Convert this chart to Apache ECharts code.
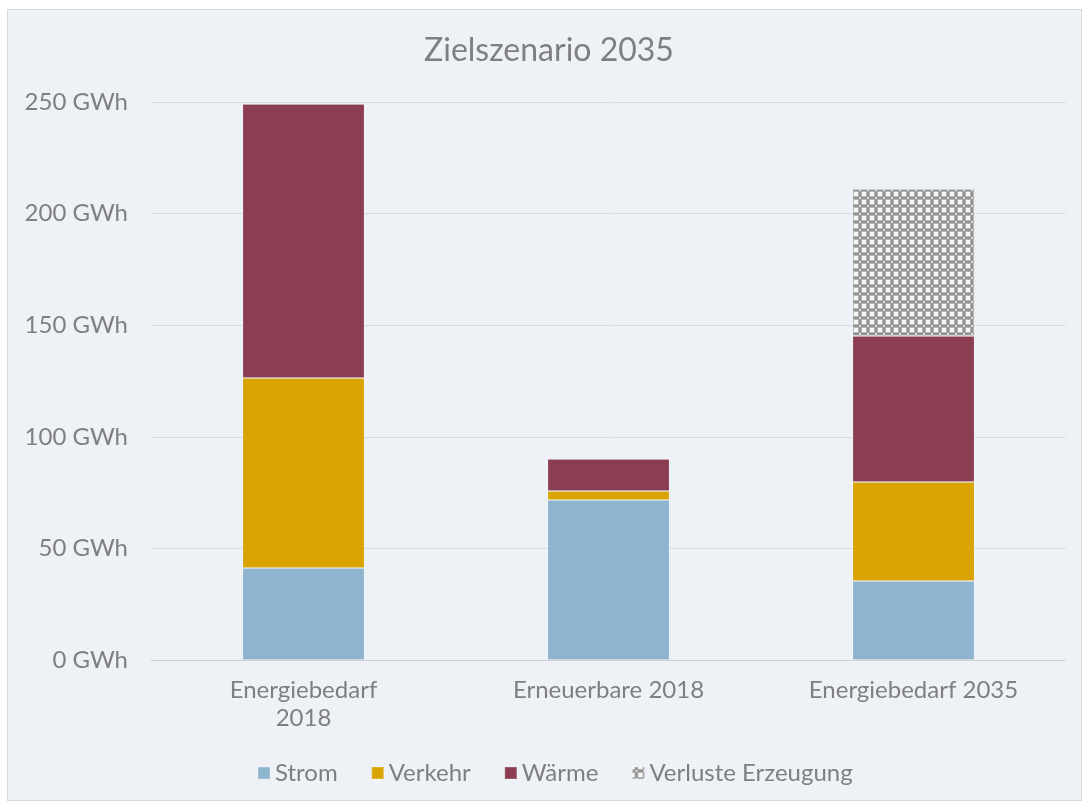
<!DOCTYPE html>
<html>
<head>
<meta charset="utf-8">
<script src="https://cdn.jsdelivr.net/npm/echarts@6/dist/echarts.min.js"></script>
<style>
  html, body { margin: 0; padding: 0; background: #ffffff; }
  #chart {
    position: absolute; left: 7px; top: 9px;
    width: 1073px; height: 790px;
    background: #eef2f6; border: 1px solid #d9d9d9;
  }
</style>
</head>
<body>
<div id="chart"></div>
<script>
const categories = ['Energiebedarf\n2018', 'Erneuerbare 2018', 'Energiebedarf 2035']
const strom = [41.2, 71.7, 35.4]
const verkehr = [85.1, 4.0, 44.3]
const waerme = [122.8, 14.4, 65.5]
const verluste = [null, null, 65.8]

// Schraffur für "Verluste Erzeugung"
const makePattern = () => {
  const c = document.createElement('canvas')
  c.width = 8
  c.height = 8
  const ctx = c.getContext('2d')
  ctx.fillStyle = '#b4b4b4'
  ctx.fillRect(0, 0, 8, 8)
  ctx.fillStyle = '#929292'
  ctx.fillRect(3, 0, 2, 8)
  ctx.fillRect(0, 3, 8, 2)
  ctx.fillStyle = '#f6f6f6'
  ctx.fillRect(0, 0, 2, 2)
  ctx.fillRect(6, 0, 2, 2)
  ctx.fillRect(0, 6, 2, 2)
  ctx.fillRect(6, 6, 2, 2)
  ctx.fillStyle = '#e0e0e0'
  ctx.fillRect(3, 3, 2, 2)
  return c
}
const pattern = { image: makePattern(), repeat: 'repeat' }

const chart = echarts.init(document.getElementById('chart'))
const font = 'Lato, "Open Sans", sans-serif'
const grey = '#7f7f7f'

const seg = (name, data, color) => ({
  name,
  type: 'bar',
  stack: 'total',
  barWidth: '40%',
  data,
  itemStyle: { color, borderColor: 'rgba(255,255,255,0.15)', borderWidth: 1 }
})

chart.setOption({
  animation: false,
  title: {
    text: 'Zielszenario 2035',
    left: 411,
    top: 20,
    textStyle: { fontFamily: font, fontSize: 32, fontWeight: 'normal', color: grey }
  },
  legend: {
    bottom: 10,
    left: 244,
    itemWidth: 12,
    itemHeight: 12,
    itemGap: 33,
    icon: 'rect',
    textStyle: { fontFamily: font, fontSize: 24, color: grey }
  },
  grid: { left: 143, right: 15, top: 92, bottom: 140 },
  xAxis: {
    type: 'category',
    data: categories,
    axisTick: { show: false },
    axisLine: { lineStyle: { color: '#d0d0d0' } },
    axisLabel: { fontFamily: font, fontSize: 24, color: grey, margin: 16, lineHeight: 28 }
  },
  yAxis: {
    type: 'value',
    min: 0,
    max: 250,
    interval: 50,
    axisLabel: { formatter: '{value} GWh', fontFamily: font, fontSize: 24, color: grey, margin: 23 },
    splitLine: { lineStyle: { color: '#d9dde2' } }
  },
  series: [
    seg('Strom', strom, '#8eb4d0'),
    seg('Verkehr', verkehr, '#d9a300'),
    seg('Wärme', waerme, '#8b3d52'),
    seg('Verluste Erzeugung', verluste, pattern)
  ]
})
</script>
</body>
</html>
